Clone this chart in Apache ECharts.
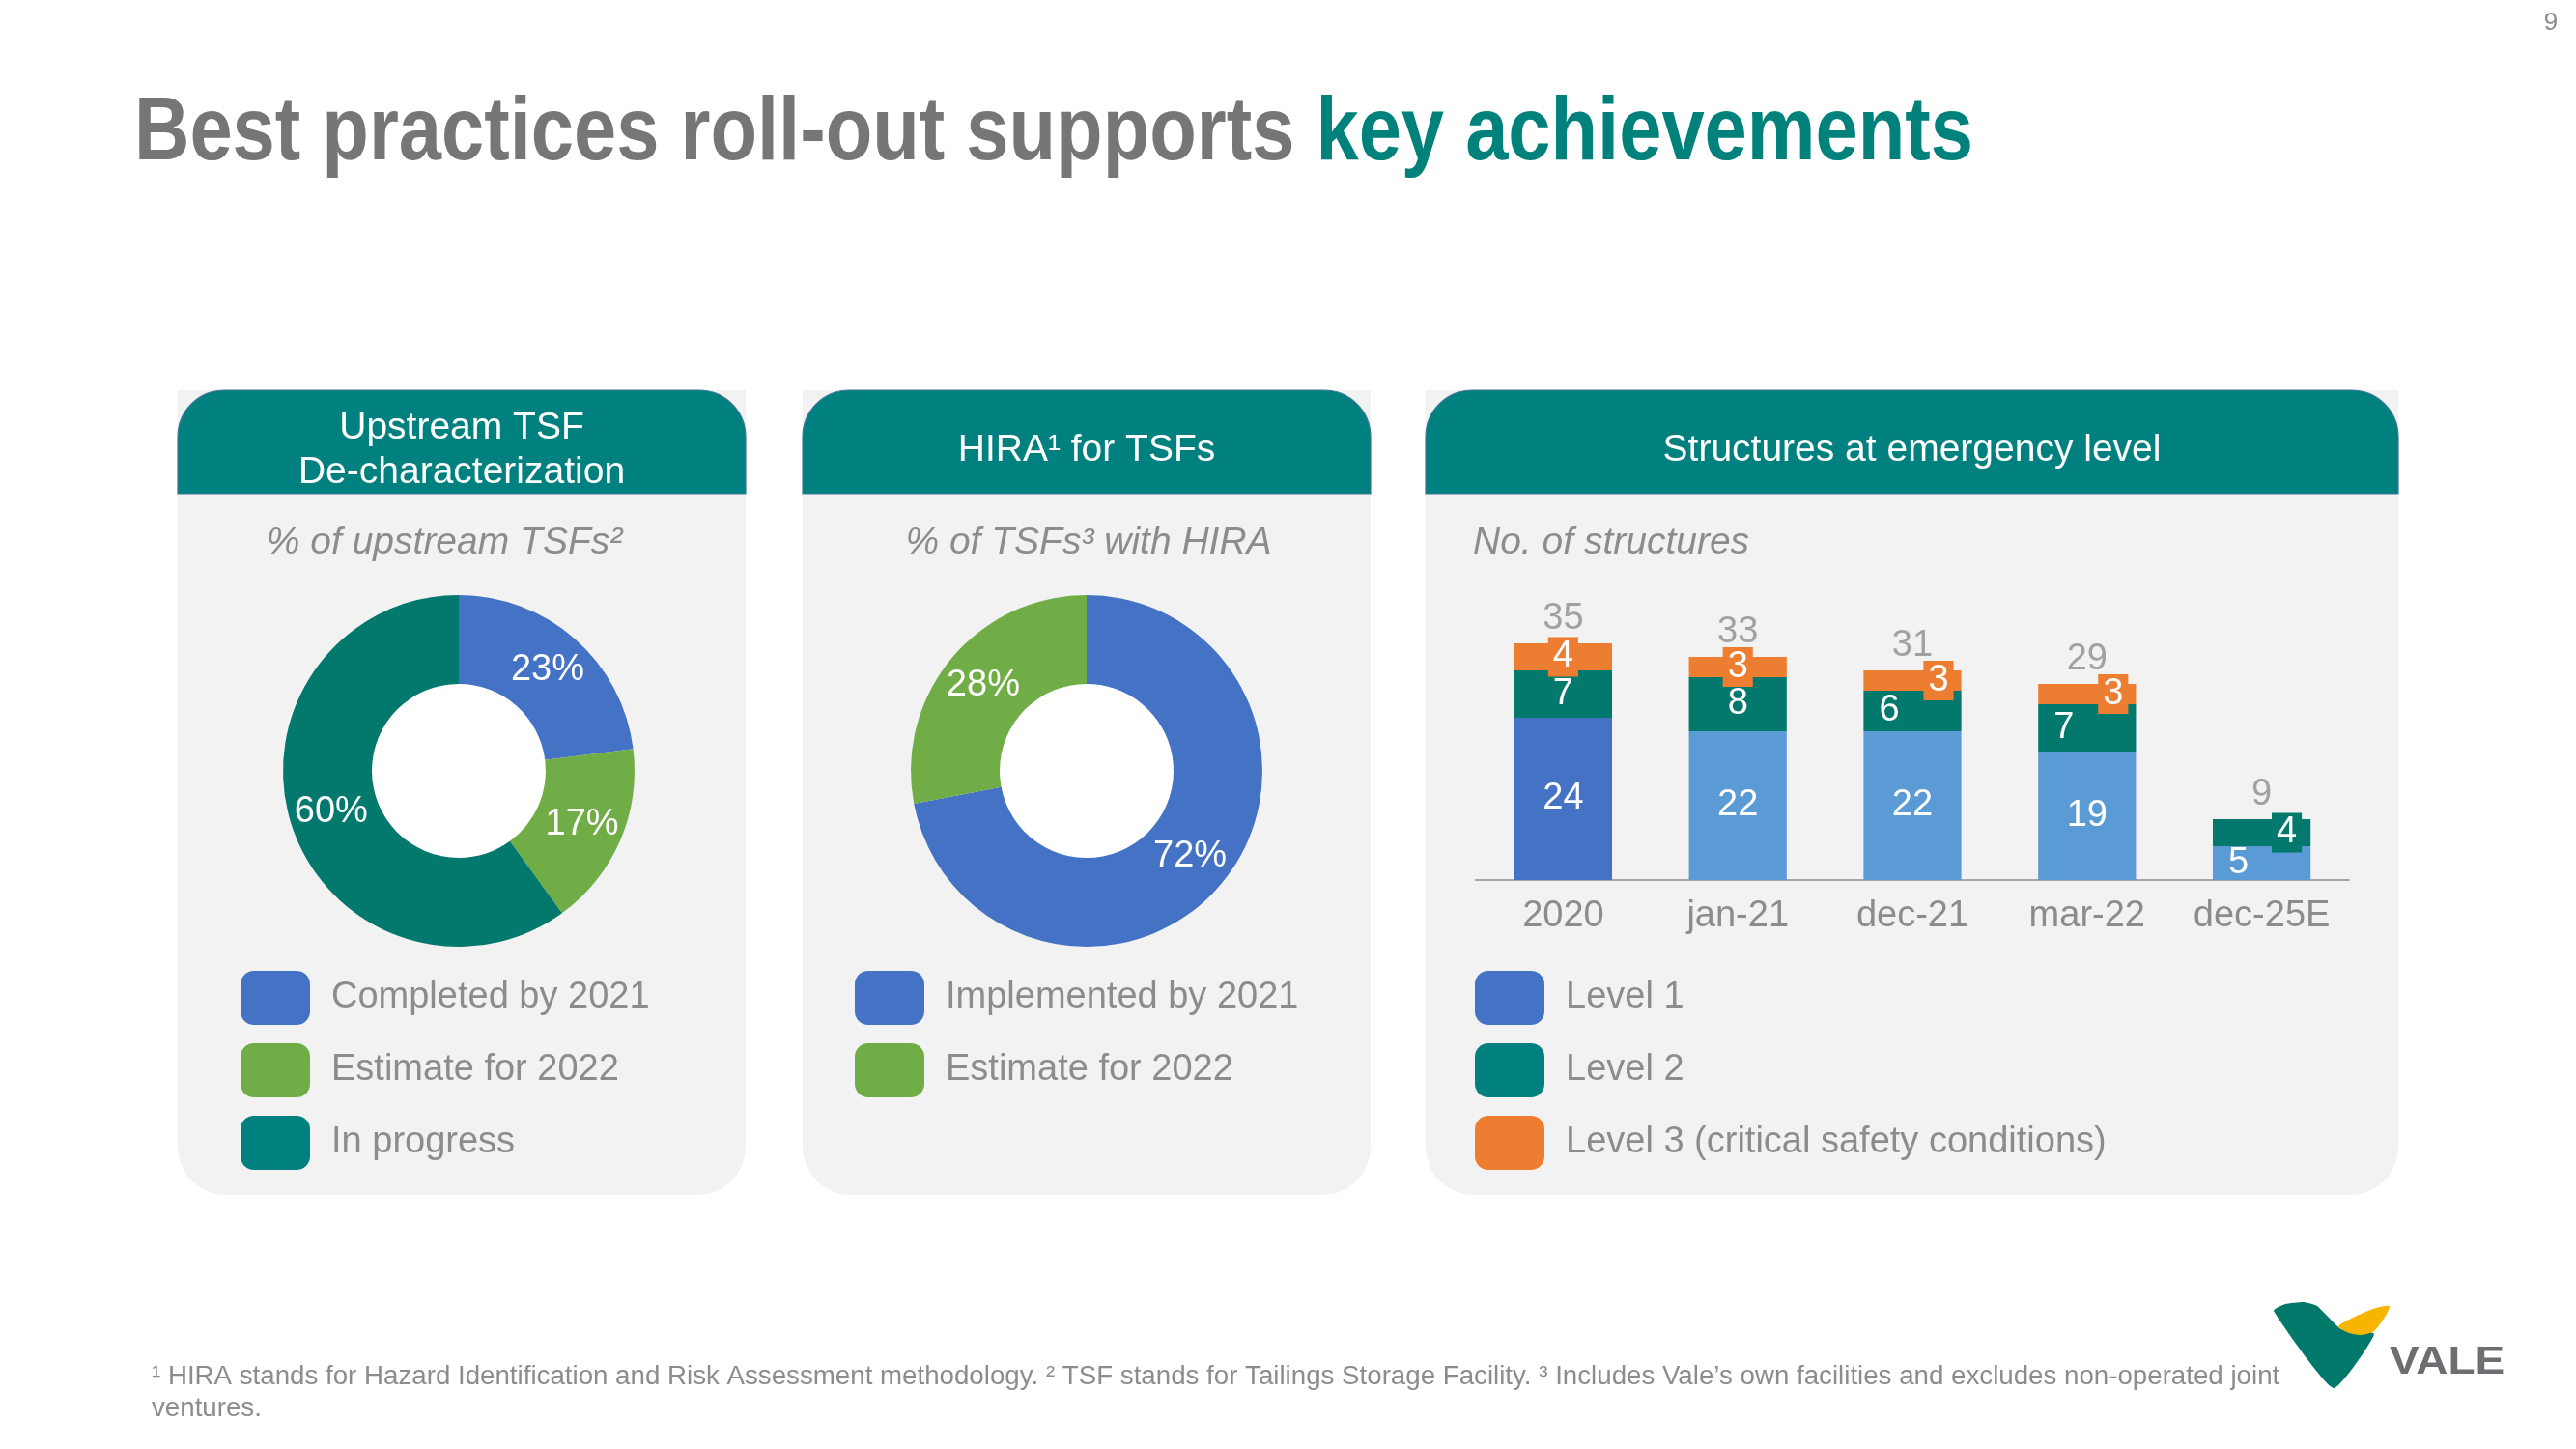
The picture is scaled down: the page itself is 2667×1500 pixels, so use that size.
<!DOCTYPE html>
<html><head><meta charset="utf-8">
<script src="https://cdn.jsdelivr.net/npm/echarts@6/dist/echarts.min.js"></script>
<style>html,body{margin:0;padding:0;background:#fff}#c{width:2667px;height:1500px}</style>
</head><body><div id="c"></div>
<script>
// ---------- data ----------
const tsfLabels = ['Completed by 2021', 'Estimate for 2022', 'In progress'];
const tsfValues = [23, 17, 60];
const hiraLabels = ['Implemented by 2021', 'Estimate for 2022'];
const hiraValues = [72, 28];
const periods = ['2020', 'jan-21', 'dec-21', 'mar-22', 'dec-25E'];
const level1 = [24, 22, 22, 19, 5];
const level2 = [7, 8, 6, 7, 4];
const level3 = [4, 3, 3, 3, 0];
const totals = [35, 33, 31, 29, 9];
const levelNames = ['Level 1', 'Level 2', 'Level 3 (critical safety conditions)'];

// ---------- styles ----------
const FONT = 'Liberation Sans';
const C = {
  blue: '#4472C4', lightBlue: '#5B9BD5', green: '#70AD47', teal: '#00807F',
  tealDark: '#03796D', orange: '#ED7D31', gray: '#8C8C8C', title: '#767676',
  panel: '#F2F2F2'
};
const tsfColors = [C.blue, C.green, C.tealDark];
const tsfLegendColors = [C.blue, C.green, C.teal];
const hiraColors = [C.blue, C.green];
const levelColors = [C.blue, C.teal, C.orange];
// horizontal nudges of labels in thin segments (px)
const l1Shift = [0, 0, 0, 0, -24];
const l2Shift = [0, 0, -24, -24, 26];
const l3Shift = [0, 0, 27, 27, 0];
const l2Boxed = [false, false, false, false, true];

const chart = echarts.init(document.getElementById('c'), null, {renderer: 'canvas'});

function panel(x, w, titleLines) {
  const els = [
    {type: 'rect', shape: {x: x, y: 404, width: w, height: 833, r: [0, 0, 50, 50]}, style: {fill: C.panel}},
    {type: 'rect', shape: {x: x, y: 404, width: w, height: 107, r: [48, 48, 0, 0]}, style: {fill: C.teal, stroke: '#3F7596', lineWidth: 1.2}}
  ];
  titleLines.forEach(t => els.push({
    type: 'text', x: x + w / 2, y: t.y,
    style: {text: t.text, fill: '#fff', fontSize: 39, fontFamily: FONT, align: 'center', verticalAlign: 'middle'}
  }));
  return els;
}
const subStyle = {fill: C.gray, fontSize: 39, fontStyle: 'italic', fontFamily: FONT, verticalAlign: 'middle'};

const graphics = [].concat(
  panel(184, 588, [{text: 'Upstream TSF', y: 443}, {text: 'De-characterization', y: 489}]),
  panel(831, 588, [{text: 'HIRA\u00B9 for TSFs', y: 466}]),
  panel(1476, 1007, [{text: 'Structures at emergency level', y: 466}]),
  [
    {type: 'text', x: 139, y: 140, scaleX: 0.864,
      style: {text: '{g|Best practices roll-out supports }{k|key achievements}', verticalAlign: 'middle',
        rich: {
          g: {fill: C.title, fontSize: 92, fontWeight: 'bold', fontFamily: FONT},
          k: {fill: '#00817C', fontSize: 92, fontWeight: 'bold', fontFamily: FONT}
        }}},
    {type: 'text', x: 2641, y: 24, style: {text: '9', fill: C.gray, fontSize: 26, fontFamily: FONT, align: 'center', verticalAlign: 'middle'}},
    {type: 'text', x: 460, y: 562, style: Object.assign({text: '% of upstream TSFs\u00B2', align: 'center'}, subStyle)},
    {type: 'text', x: 1127, y: 562, style: Object.assign({text: '% of TSFs\u00B3 with HIRA', align: 'center'}, subStyle)},
    {type: 'text', x: 1525, y: 562, style: Object.assign({text: 'No. of structures', align: 'left'}, subStyle)},
    {type: 'circle', shape: {cx: 475, cy: 798, r: 91}, style: {fill: '#fff'}},
    {type: 'circle', shape: {cx: 1125, cy: 798, r: 91}, style: {fill: '#fff'}},
    {type: 'text', x: 157, y: 1425, style: {text: '\u00B9 HIRA stands for Hazard Identification and Risk Assessment methodology. \u00B2 TSF stands for Tailings Storage Facility. \u00B3 Includes Vale\u2019s own facilities and excludes non-operated joint', fill: C.gray, fontSize: 27.7, fontFamily: FONT, verticalAlign: 'middle'}},
    {type: 'text', x: 157, y: 1458, style: {text: 'ventures.', fill: C.gray, fontSize: 27.7, fontFamily: FONT, verticalAlign: 'middle'}},
    {type: 'polygon', shape: {points: [[2354, 1357], [2366, 1350], [2385, 1348], [2399, 1352], [2424, 1376], [2458, 1381], [2416, 1437]], smooth: 0.15}, style: {fill: '#00796B'}},
    {type: 'polygon', shape: {points: [[2421, 1373], [2440, 1362], [2460, 1354], [2474, 1352], [2470, 1362], [2458, 1378], [2445, 1382], [2432, 1380]], smooth: 0.2}, style: {fill: '#F7B500'}},
    {type: 'text', x: 2474, y: 1411, scaleX: 1.12, style: {text: 'VALE', fill: '#6D6E71', fontSize: 41, fontWeight: 'bold', fontFamily: FONT, verticalAlign: 'middle'}}
  ]
);

const pieLabel = {show: true, position: 'inside', formatter: '{c}%', color: '#fff', fontSize: 38, fontFamily: FONT};
const legendBase = {orient: 'vertical', padding: 0, itemWidth: 72, itemHeight: 56, itemGap: 19, icon: 'roundRect', selectedMode: false,
  textStyle: {fontSize: 38, color: C.gray, fontFamily: FONT, padding: [0, 0, 0, 17]}};
const segLabel = {show: true, position: 'inside', color: '#fff', fontSize: 38, fontFamily: FONT, lineHeight: 38};

function legendData(names, colors) {
  return names.map((n, i) => ({name: n, itemStyle: {color: colors[i]}}));
}

const option = {
  animation: false,
  backgroundColor: '#fff',
  graphic: {elements: graphics},
  legend: [
    Object.assign({left: 249, top: 1005, data: legendData(tsfLabels, tsfLegendColors)}, legendBase),
    Object.assign({left: 885, top: 1005, data: legendData(hiraLabels, hiraColors)}, legendBase),
    Object.assign({left: 1527, top: 1005, data: legendData(levelNames, levelColors)}, legendBase)
  ],
  grid: {left: 1528, right: 235, top: 666, bottom: 589, containLabel: false},
  xAxis: {type: 'category', data: periods,
    axisLine: {lineStyle: {color: '#A6A6A6', width: 2}}, axisTick: {show: false},
    axisLabel: {color: C.gray, fontSize: 38, fontFamily: FONT, margin: 19, interval: 0}},
  yAxis: {type: 'value', min: 0, max: 35, show: false, splitLine: {show: false}},
  series: [
    {type: 'pie', name: 'tsf', center: [475, 798], radius: [90, 182], startAngle: 90, clockwise: true,
      silent: true, emphasis: {disabled: true}, label: pieLabel, labelLine: {show: false},
      data: tsfValues.map((v, i) => ({name: tsfLabels[i], value: v, itemStyle: {color: tsfColors[i]}}))},
    {type: 'pie', name: 'hira', center: [1125, 798], radius: [90, 182], startAngle: 90, clockwise: true,
      silent: true, emphasis: {disabled: true}, label: pieLabel, labelLine: {show: false},
      data: hiraValues.map((v, i) => ({name: hiraLabels[i], value: v, itemStyle: {color: hiraColors[i]}}))},
    {type: 'bar', name: levelNames[0], stack: 'lv', barWidth: '56%', itemStyle: {color: C.blue}, silent: true,
      label: segLabel,
      data: level1.map((v, i) => ({value: v, itemStyle: {color: i === 0 ? C.blue : C.lightBlue}, label: {offset: [l1Shift[i], 0]}}))},
    {type: 'bar', name: levelNames[1], stack: 'lv', itemStyle: {color: C.tealDark}, silent: true,
      label: segLabel,
      data: level2.map((v, i) => ({value: v, label: Object.assign({offset: [l2Shift[i], 0]},
        l2Boxed[i] ? {backgroundColor: C.tealDark, padding: [2, 5, 1, 5]} : {})}))},
    {type: 'bar', name: levelNames[2], stack: 'lv', itemStyle: {color: C.orange}, silent: true,
      label: Object.assign({}, segLabel, {backgroundColor: C.orange, padding: [2, 5, 1, 5]}),
      data: level3.map((v, i) => ({value: v, label: {show: v > 0, offset: [l3Shift[i], 0]}}))},
    {type: 'scatter', name: 'Total', data: totals, symbolSize: 1, silent: true, z: 5,
      itemStyle: {color: 'rgba(0,0,0,0)'},
      label: {show: true, position: 'top', distance: 6, color: C.gray, fontSize: 38, fontFamily: FONT}}
  ]
};
chart.setOption(option);
</script>
</body></html>
